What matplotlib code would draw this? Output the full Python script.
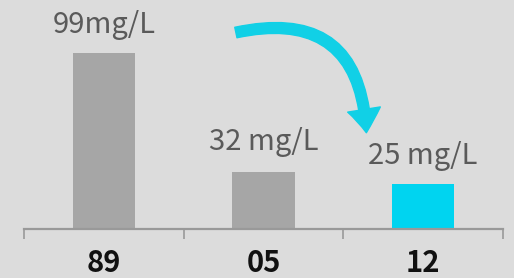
import matplotlib
matplotlib.use("Agg")
import matplotlib.pyplot as plt
from matplotlib.patches import FancyArrowPatch

years = ["89", "05", "12"]
values = [99, 32, 25]
labels = ["99mg/L", "32 mg/L", "25 mg/L"]
colors = ["#a6a6a6", "#a6a6a6", "#00d4f0"]

bg = "#dcdcdc"
fig = plt.figure(figsize=(5.14, 2.78), dpi=100, facecolor=bg)
ax = fig.add_axes([24 / 514, 49 / 278, 479 / 514, 229 / 278])
ax.set_facecolor(bg)

x = range(len(years))
ax.bar(x, values, width=0.39, color=colors, zorder=2)

ax.set_xlim(-0.5, 2.5)
ax.set_ylim(0, 128.6)

for s in ["top", "right", "left"]:
    ax.spines[s].set_visible(False)
ax.spines["bottom"].set_color("#999999")
ax.spines["bottom"].set_linewidth(1.6)
ax.set_yticks([])

ax.set_xticks(list(x))
ax.set_xticklabels(years, fontsize=21, family=["Noto Sans CJK SC", "DejaVu Sans"],
                   color="#111111", fontweight="bold")
ax.tick_params(axis="x", which="major", length=0, pad=14)
ax.set_xticks([-0.5, 0.5, 1.5, 2.5], minor=True)
ax.tick_params(axis="x", which="minor", length=7, width=1.2, color="#999999", direction="out")

offsets = [9, 10.5, 10]
for i, (v, lab) in enumerate(zip(values, labels)):
    ax.annotate(lab, (i, v), xytext=(0, offsets[i]), textcoords="offset points",
                ha="center", va="bottom", fontsize=21, color="#5a5a5a",
                family=["Noto Sans CJK SC", "DejaVu Sans"], fontweight="light")

arrow = FancyArrowPatch((0.81, 110), (1.645, 52.5), connectionstyle="arc3,rad=-0.6",
                        arrowstyle="simple,head_width=1.7,head_length=1.2,tail_width=0.55",
                        mutation_scale=14, color="#11d0e6", zorder=3)
ax.add_patch(arrow)

fig.savefig("out.png", dpi=100, facecolor=bg)
